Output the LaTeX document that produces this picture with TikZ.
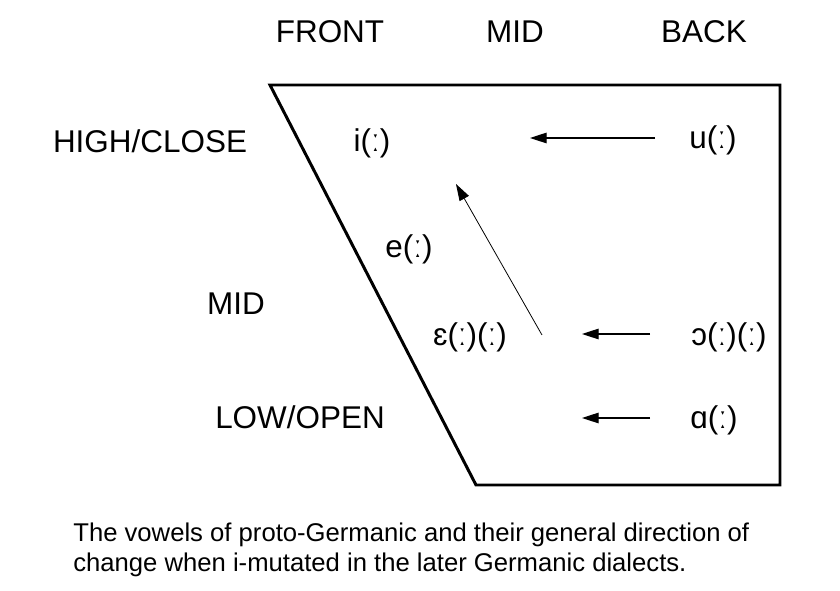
\documentclass[tikz,border=0pt]{standalone}
\usepackage{fontspec}
\setmainfont{Liberation Sans}
\usetikzlibrary{arrows.meta}
\tikzstyle{hdr}=[inner sep=0pt,font=\fontsize{17.9}{21}\selectfont]
\tikzstyle{vow}=[inner sep=0pt,font=\fontsize{17.9}{21}\selectfont]
\tikzstyle{vshift}=[-{Triangle[length=9.5pt,width=6pt]}, line width=0.75pt]

\begin{document}
\begin{tikzpicture}[x=0.02cm,y=-0.02cm]
\useasboundingbox[fill=white] (0,0) rectangle (840,591);
% chart outline
\draw[line width=1.7pt,line join=miter] (270,85) -- (780,85) -- (780,485) -- (476,485) -- cycle;
% column and row labels
\node[hdr] (front) at (330,32) {FRONT};
\node[hdr] (cmid) at (515,32) {MID};
\node[hdr] (back) at (704,32) {BACK};
\node[hdr] (high) at (150,141) {HIGH/CLOSE};
\node[hdr] (rmid) at (236,304) {MID};
\node[hdr] (low) at (300,417) {LOW/OPEN};
% vowels
\node[vow] (i) at (372,143) {i(ː)};
\node[vow] (u) at (713,140) {u(ː)};
\node[vow] (e) at (409,249) {e(ː)};
\node[vow] (eps) at (470,337) {ɛ(ː)(ː)};
\node[vow] (oo) at (729,337) {ɔ(ː)(ː)};
\node[vow] (a) at (714,420) {ɑ(ː)};
% arrow ends
\coordinate (u1) at (655,138);\coordinate (u2) at (530,138);
\coordinate (oo1) at (650,334);\coordinate (oo2) at (582,334);
\coordinate (a1) at (650,418);\coordinate (a2) at (582,418);
\coordinate (d1) at (542,335);\coordinate (d2) at (456,184);
\draw[vshift] (u1)--(u2);
\draw[vshift] (oo1)--(oo2);
\draw[vshift] (a1)--(a2);
\draw[vshift,line width=0.45pt] (d1)--(d2);
% caption
\node[anchor=north west,inner sep=0pt,align=left,font=\fontsize{14.6}{17}\selectfont] (cap) at (73,523)
{The vowels of proto-Germanic and their general direction of\\change when i-mutated in the later Germanic dialects.};
\end{tikzpicture}
\end{document}
